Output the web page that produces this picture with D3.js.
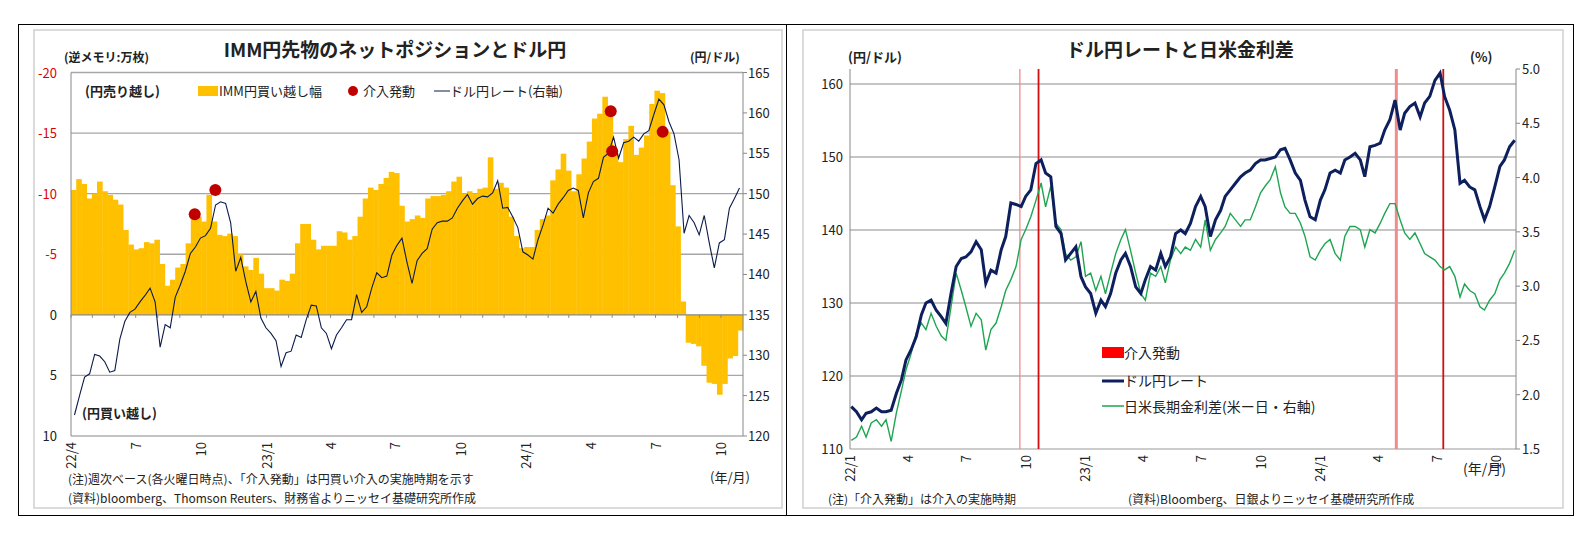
<!DOCTYPE html>
<html><head><meta charset="utf-8">
<script src="https://cdn.jsdelivr.net/npm/d3@7"></script>
<style>body{margin:0;background:#fff}svg{font-family:"Noto Sans CJK JP","Noto Sans",sans-serif}</style>
</head><body><svg id="c" width="1591" height="545"></svg>
<script>
// ---- Left chart data (weekly, from 2022/4/5) ----
const immStart = "2022-04-05";
const immNet = [-10.3,-11.2,-10.8,-9.6,-10.0,-11.0,-10.2,-9.9,-9.5,-9.1,-7.0,-5.8,-5.4,-5.5,-6.0,-5.9,-6.2,-4.2,-2.4,-2.9,-3.9,-4.2,-5.9,-8.1,-8.1,-7.7,-9.9,-7.7,-6.6,-6.5,-6.7,-6.5,-5.0,-4.0,-3.7,-4.7,-3.4,-2.2,-2.2,-2.0,-2.9,-2.8,-3.4,-5.9,-7.5,-7.5,-6.2,-5.4,-5.7,-5.7,-5.7,-6.9,-6.8,-6.2,-6.5,-8.1,-9.6,-10.5,-10.3,-10.8,-11.3,-11.8,-11.7,-9.0,-7.7,-7.9,-8.2,-8.0,-9.6,-9.8,-9.8,-9.9,-10.2,-11.0,-11.4,-10.0,-10.2,-10.0,-10.4,-10.5,-13.0,-10.4,-10.9,-10.5,-8.1,-6.5,-5.5,-5.6,-5.6,-7.0,-7.9,-8.2,-11.1,-12.0,-13.3,-11.9,-10.2,-11.6,-12.9,-14.3,-16.2,-16.6,-18.0,-16.5,-13.3,-12.6,-14.5,-15.6,-13.2,-13.8,-14.8,-17.4,-18.5,-18.3,-15.1,-10.7,-7.3,-1.1,2.3,2.4,2.6,4.2,5.6,5.7,6.6,5.7,3.6,3.4,1.3];
const usdjpyWeekly = [122.6,125,127.3,127.7,130.1,129.9,129.2,127.9,128.1,132,134.2,135.3,135.7,136.6,137.4,138.3,136.6,131,133.8,133.4,137.2,138.7,140.4,142.6,143.4,144.5,144.8,145.7,148.6,149,148.8,146.4,140.4,142.1,139.1,136.6,137.9,134.6,133.4,132.7,131.8,128.6,130.3,130.5,132.5,132.2,134.4,136.2,136.1,133.4,132.7,130.8,132.5,133.4,134.4,134.4,137.5,135.3,136,138.3,140.2,139.6,139.8,142.4,143.6,144.5,141.5,138.9,141.7,142.6,143.2,145.6,146.4,146.6,146.6,147,148.2,149.1,149.9,148.7,149.4,149.7,149.6,150.1,151.6,148.2,148.3,147.1,145.8,142.8,142.4,141.9,144.3,146.1,148.2,147.6,148.7,149.5,150.4,150.7,150.4,147,150.1,151.5,151.9,154.5,155,157,154.4,156.3,156.5,157,156.5,157.4,157.8,159.8,161.7,161,158.9,157.4,154.2,145.1,147.3,146.4,144.9,147.3,143.9,140.8,143.9,144.3,148.2,149.4,150.7];
const intervDates = ["2022-09-22","2022-10-21","2024-04-29","2024-05-01","2024-07-11"];
const intervImm = [-8.3,-10.3,-16.8,-13.5,-15.1];
const leftTicksY = [-20,-15,-10,-5,0,5,10];
const rightTicksY1 = [120,125,130,135,140,145,150,155,160,165];
const monthLabels1 = ["22/4","7","10","23/1","4","7","10","24/1","4","7","10"];

// ---- Right chart data (approx. every ~7.8 days from 2022/1/3) ----
const rStart = "2022-01-03";
const usdjpyDaily = [115.8,115.1,114,114.9,115.1,115.6,115.1,115.1,115.3,117.6,119.5,122.2,123.6,125.4,128.4,130,130.4,129,128.1,127.2,131.3,135,136.1,136.3,137,138.4,137.3,132.7,134.5,134.1,137.3,139.1,143.7,143.5,143.2,144.6,145.5,149.1,149.6,147.8,147.3,140.5,139.5,135.9,136.8,137.7,
133.6,132.2,131.3,128.6,130.4,129.5,131.3,134.1,135.9,136.8,135,132.2,131.3,133.2,135,134.5,136.8,135,136.3,139.5,140,139.5,140.9,143.2,144.6,143.2,139.1,141.4,142.7,144.6,145.5,146.4,147.3,147.8,148.2,149.1,149.6,149.6,149.8,150.0,151,151.2,149.6,147.8,146.8,
144.1,141.8,141.4,144.1,145.5,147.8,148.2,147.8,149.6,150,150.5,149.6,147.3,151.4,151.6,151.9,153.7,155.1,157.8,153.7,156,156.9,157.4,155.5,157.4,158.3,160.5,161.5,158.3,156.4,153.7,146.4,146.8,145.9,145.5,143.2,141.4,143.2,145.9,148.7,149.6,151.4,152.3];
const spread = [1.58,1.61,1.71,1.61,1.74,1.77,1.71,1.77,1.57,1.83,2.04,2.23,2.38,2.57,2.66,2.60,2.75,2.63,2.54,2.50,2.81,3.12,2.96,2.81,2.63,2.75,2.69,2.41,2.60,2.66,2.81,2.96,3.06,3.18,3.43,3.52,3.64,3.79,3.95,3.73,3.92,3.58,3.52,3.30,3.24,3.27,
3.41,3.09,3.12,2.96,3.09,2.93,3.12,3.30,3.43,3.52,3.33,3.12,2.93,2.87,3.12,3.09,3.18,3.03,3.24,3.36,3.30,3.36,3.33,3.43,3.36,3.61,3.33,3.43,3.49,3.55,3.67,3.61,3.55,3.61,3.61,3.73,3.86,3.92,3.98,4.10,3.86,3.73,3.67,3.67,3.58,
3.46,3.27,3.24,3.33,3.39,3.43,3.30,3.24,3.46,3.55,3.55,3.52,3.36,3.52,3.49,3.58,3.67,3.76,3.76,3.61,3.49,3.43,3.49,3.39,3.30,3.27,3.24,3.18,3.15,3.18,3.09,2.90,3.02,2.96,2.93,2.81,2.78,2.87,2.93,3.06,3.12,3.21,3.33];
const rInterv = ["2022-09-22","2022-10-21","2024-04-29","2024-07-11"];
const rLeftTicks = [110,120,130,140,150,160];
const rRightTicks = [1.5,2.0,2.5,3.0,3.5,4.0,4.5,5.0];
const monthLabels2 = ["22/1","4","7","10","23/1","4","7","10","24/1","4","7","10"];

const svg = d3.select("#c");
const P = d3.timeParse("%Y-%m-%d");
const T = (sel,x,y,t,o={}) => sel.append("text").attr("x",x).attr("y",y).text(t)
  .attr("font-size",o.fs||13).attr("fill",o.fill||"#222").attr("text-anchor",o.a||"start")
  .attr("font-weight",o.fw||"normal");

// frames
svg.append("line").attr("x1",18).attr("x2",1573).attr("y1",24.5).attr("y2",24.5).attr("stroke","#000");
svg.append("line").attr("x1",18).attr("x2",1573).attr("y1",515.5).attr("y2",515.5).attr("stroke","#000");
[18.5,786.5,1573.5].forEach(x=>svg.append("line").attr("x1",x).attr("x2",x).attr("y1",24).attr("y2",516).attr("stroke","#000"));
svg.append("rect").attr("x",34).attr("y",30).attr("width",748).attr("height",478).attr("fill","none").attr("stroke","#d0d0d0").attr("stroke-width",1.5);
svg.append("rect").attr("x",803).attr("y",30).attr("width",760).attr("height",478).attr("fill","none").attr("stroke","#d0d0d0").attr("stroke-width",1.5);

// ===== LEFT =====
{
  const x0=71, x1=743;
  const yL = d3.scaleLinear().domain([-20,10]).range([72.5,436]);
  const yR = d3.scaleLinear().domain([165,120]).range([72.5,436]);
  const xb = d3.scaleLinear().domain([0,immNet.length]).range([x0,x1]);
  const xl = d3.scaleLinear().domain([0,usdjpyWeekly.length-1]).range([x0+3.5,x1-3.5]);
  const xt = d3.scaleTime().domain([P("2022-04-01"),P("2024-11-01")]).range([x0,x1]);
  const g = svg.append("g");
  // grid
  g.selectAll(".gl").data(leftTicksY.filter(v=>v!==0&&v!==10)).join("line")
    .attr("x1",x0).attr("x2",x1).attr("y1",d=>yL(d)).attr("y2",d=>yL(d)).attr("stroke","#a6a6a6").attr("stroke-width",1.3);
  // bars
  g.selectAll(".b").data(immNet).join("rect")
    .attr("x",(d,i)=>xb(i)).attr("width",xb(1)-xb(0)+0.4)
    .attr("y",d=>Math.min(yL(d),yL(0))).attr("height",d=>Math.abs(yL(d)-yL(0)))
    .attr("fill","#ffc000");
  // axes
  g.append("line").attr("x1",x0).attr("x2",x0).attr("y1",yL(-20)).attr("y2",yL(10)).attr("stroke","#888");
  g.append("line").attr("x1",x1).attr("x2",x1).attr("y1",yL(-20)).attr("y2",yL(10)).attr("stroke","#888");
  g.append("line").attr("x1",x0).attr("x2",x1).attr("y1",yL(10)).attr("y2",yL(10)).attr("stroke","#888");
  g.append("line").attr("x1",x0).attr("x2",x1).attr("y1",yL(0)).attr("y2",yL(0)).attr("stroke","#888").attr("stroke-width",1.2);
  const months = d3.timeMonth.range(P("2022-04-01"),P("2024-11-01"));
  g.selectAll(".mt").data(months).join("line").attr("x1",d=>xt(d)).attr("x2",d=>xt(d))
    .attr("y1",yL(0)).attr("y2",yL(0)+3).attr("stroke","#888");
  leftTicksY.forEach(v=>T(g,57,yL(v)+5,String(v),{a:"end",fs:13,fill:v<0?"#e00000":"#222"}));
  rightTicksY1.forEach(v=>{
    g.append("line").attr("x1",x1).attr("x2",x1+4).attr("y1",yR(v)).attr("y2",yR(v)).attr("stroke","#888");
    T(g,748,yR(v)+5,String(v),{fs:13});
  });
  const qm = d3.timeMonth.every(3).range(P("2022-04-01"),P("2024-11-01"));
  qm.forEach((d,i)=>{
    g.append("text").attr("transform",`translate(${xt(d)+5},${yL(10)+6}) rotate(-90)`)
      .attr("text-anchor","end").attr("font-size",13).attr("fill","#222").text(monthLabels1[i]);
  });
  // line
  g.append("path").datum(usdjpyWeekly).attr("fill","none").attr("stroke","#0b1a4a").attr("stroke-width",1.1)
    .attr("d",d3.line().x((d,i)=>xl(i)).y(d=>yR(d)));
  g.selectAll(".dot").data(intervDates).join("circle").attr("cx",d=>xt(P(d))).attr("cy",(d,i)=>yL(intervImm[i]))
    .attr("r",6).attr("fill","#c00000");
  // texts
  T(g,395,57,"IMM円先物のネットポジションとドル円",{a:"middle",fs:19,fw:"bold"});
  T(g,64,62,"(逆メモリ:万枚)",{fs:12,fw:"bold"});
  T(g,690,62,"(円/ドル)",{fs:12,fw:"bold"});
  T(g,85,96,"(円売り越し)",{fs:13,fw:"bold"});
  T(g,82,418,"(円買い越し)",{fs:13,fw:"bold"});
  g.append("rect").attr("x",198).attr("y",86).attr("width",20).attr("height",10).attr("fill","#ffc000");
  T(g,219,96,"IMM円買い越し幅",{fs:13});
  g.append("circle").attr("cx",353).attr("cy",91).attr("r",5).attr("fill","#c00000");
  T(g,363,96,"介入発動",{fs:13});
  g.append("line").attr("x1",434).attr("x2",450).attr("y1",91).attr("y2",91).attr("stroke","#0b1a4a");
  T(g,450,96,"ドル円レート(右軸)",{fs:13});
  T(g,710,482,"(年/月)",{fs:13});
  T(g,68,484,"(注)週次ベース(各火曜日時点)、「介入発動」は円買い介入の実施時期を示す",{fs:12});
  T(g,68,503,"(資料)bloomberg、Thomson Reuters、財務省よりニッセイ基礎研究所作成",{fs:12});
}

// ===== RIGHT =====
{
  const x0=850, x1=1516;
  const yL = d3.scaleLinear().domain([110,160]).range([449,84]);
  const yR = d3.scaleLinear().domain([1.5,5.0]).range([449,69]);
  const xt = d3.scaleTime().domain([P("2022-01-01"),P("2024-11-01")]).range([x0,x1]);
  const dates = usdjpyDaily.map((d,i)=>d3.timeDay.offset(P(rStart),Math.round(i*7.75)));
  const g = svg.append("g");
  rLeftTicks.filter(v=>v>110).forEach(v=>g.append("line").attr("x1",x0).attr("x2",x1).attr("y1",yL(v)).attr("y2",yL(v)).attr("stroke","#8c8c8c").attr("stroke-width",1.2));
  g.append("line").attr("x1",x0).attr("x2",x1).attr("y1",yL(110)).attr("y2",yL(110)).attr("stroke","#bbb").attr("stroke-width",1.5);
  g.append("line").attr("x1",x0).attr("x2",x0).attr("y1",69).attr("y2",449).attr("stroke","#888");
  g.append("line").attr("x1",x1).attr("x2",x1).attr("y1",69).attr("y2",449).attr("stroke","#888");
  rLeftTicks.forEach(v=>T(g,843,yL(v)+5,String(v),{a:"end",fs:13}));
  rRightTicks.forEach(v=>{
    g.append("line").attr("x1",x1).attr("x2",x1+4).attr("y1",yR(v)).attr("y2",yR(v)).attr("stroke","#888");
    T(g,1522,yR(v)+5,v.toFixed(1),{fs:13});
  });
  const qm = d3.timeMonth.every(3).range(P("2022-01-01"),P("2024-11-01"));
  qm.forEach((d,i)=>{
    g.append("text").attr("transform",`translate(${xt(d)+5},${455}) rotate(-90)`)
      .attr("text-anchor","end").attr("font-size",13).attr("fill","#222").text(monthLabels2[i]);
  });
  // intervention lines
  rInterv.forEach((d,i)=>{
    const light = (i===0||i===2);
    g.append("line").attr("x1",xt(P(d))).attr("x2",xt(P(d))).attr("y1",69).attr("y2",449)
      .attr("stroke",light?"#f28b8b":"#d01010").attr("stroke-width",i===2?3:(i===0?1.3:1.8));
  });
  g.append("path").datum(spread).attr("fill","none").attr("stroke","#1fa552").attr("stroke-width",1.4)
    .attr("d",d3.line().x((d,i)=>xt(dates[i])).y(d=>yR(d)));
  g.append("path").datum(usdjpyDaily).attr("fill","none").attr("stroke","#0d1f5c").attr("stroke-width",3)
    .attr("d",d3.line().x((d,i)=>xt(dates[i])).y(d=>yL(d)));
  // texts
  T(g,1180,57,"ドル円レートと日米金利差",{a:"middle",fs:19,fw:"bold"});
  T(g,848,62,"(円/ドル)",{fs:13,fw:"bold"});
  T(g,1470,62,"(%)",{fs:13,fw:"bold"});
  g.append("rect").attr("x",1102).attr("y",347).attr("width",22).attr("height",11).attr("fill","#ff0000");
  T(g,1124,358,"介入発動",{fs:14});
  g.append("line").attr("x1",1102).attr("x2",1124).attr("y1",381).attr("y2",381).attr("stroke","#0d1f5c").attr("stroke-width",3);
  T(g,1124,386,"ドル円レート",{fs:14});
  g.append("line").attr("x1",1102).attr("x2",1124).attr("y1",406).attr("y2",406).attr("stroke","#1fa552").attr("stroke-width",1.5);
  T(g,1124,412,"日米長期金利差(米ー日・右軸)",{fs:14});
  T(g,1463,474,"(年/月)",{fs:14});
  T(g,828,504,"(注)「介入発動」は介入の実施時期",{fs:12});
  T(g,1128,504,"(資料)Bloomberg、日銀よりニッセイ基礎研究所作成",{fs:12});
}
</script></body></html>
